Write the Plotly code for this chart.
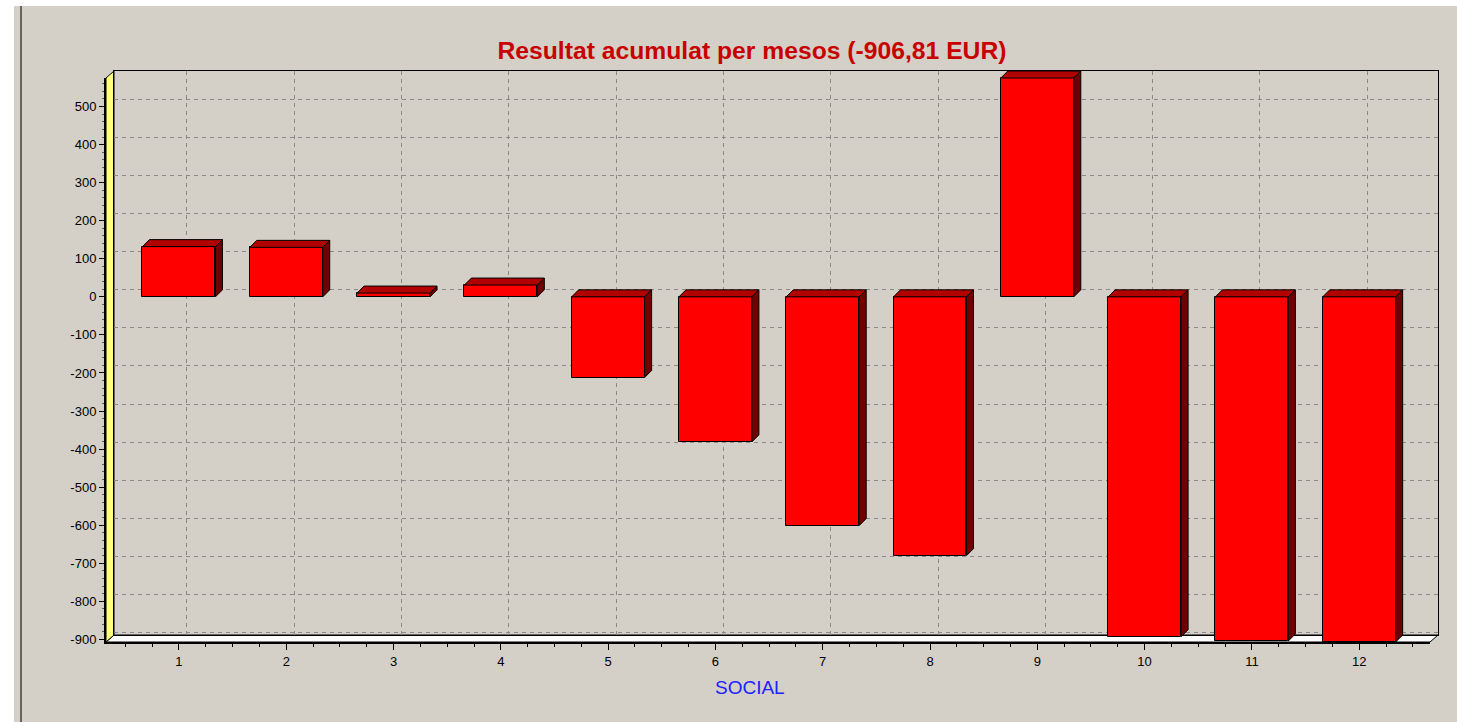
import plotly.graph_objects as go

# ---------------- data ----------------
months = [1, 2, 3, 4, 5, 6, 7, 8, 9, 10, 11, 12]
values = [132, 130, 10, 31, -212, -381, -601, -680, 575, -893, -904, -906.81]
title_text = "Resultat acumulat per mesos (-906,81 EUR)"
x_title = "SOCIAL"
y_ticks = [-900, -800, -700, -600, -500, -400, -300, -200, -100, 0, 100, 200, 300, 400, 500]
y_tick_labels = [str(v) for v in y_ticks]
y_min, y_max = -906.81, 575
x_min, x_max = 0.32, 12.66

# ---------------- geometry (pixels) ----------------
W, H = 1457, 722
FL, FR, FT, FB = 106, 1430, 78, 642      # front plane
DX, DY = 8, 7                            # wall depth
BAR_D = 7                                 # bar depth
BAR_W = 0.68

sx = (FR - FL) / (x_max - x_min)          # px per x unit
sy = (FB - FT) / (y_max - y_min)          # px per y unit


def px(x):
    return x / W


def py(y):
    return 1 - y / H


# overlay axis ranges so that the mapping equals the front plane mapping
x3_range = [x_min - FL / sx, x_min + (W - FL) / sx]
y3_range = [y_min - (H - FB) / sy, y_min + FB / sy]

ddx = BAR_D / sx
ddy = BAR_D / sy

top_x, top_y, side_x, side_y = [], [], [], []
for m, v in zip(months, values):
    xl, xr = m - BAR_W / 2, m + BAR_W / 2
    yt, yb = max(v, 0), min(v, 0)
    top_x += [xl, xr, xr + ddx, xl + ddx, xl, None]
    top_y += [yt, yt, yt + ddy, yt + ddy, yt, None]
    side_x += [xr, xr, xr + ddx, xr + ddx, xr, None]
    side_y += [yb, yt, yt + ddy, yb + ddy, yb, None]

FONT = "Liberation Sans, Arial, sans-serif"
GRID = "#8a8a8a"

fig = go.Figure()

fig.add_trace(go.Scatter(x=[None], y=[None], xaxis="x", yaxis="y",
                         showlegend=False, hoverinfo="skip"))
fig.add_trace(go.Scatter(x=[None], y=[None], xaxis="x2", yaxis="y2",
                         showlegend=False, hoverinfo="skip"))

fig.add_trace(go.Bar(x=months, y=values, width=BAR_W, xaxis="x3", yaxis="y3",
                     marker=dict(color="#FF0000", line=dict(color="#000000", width=1)),
                     showlegend=False))
fig.add_trace(go.Scatter(x=top_x, y=top_y, xaxis="x3", yaxis="y3", mode="lines",
                         fill="toself", fillcolor="#B00000",
                         line=dict(color="#000000", width=1),
                         showlegend=False, hoverinfo="skip"))
fig.add_trace(go.Scatter(x=side_x, y=side_y, xaxis="x3", yaxis="y3", mode="lines",
                         fill="toself", fillcolor="#700000",
                         line=dict(color="#000000", width=1),
                         showlegend=False, hoverinfo="skip"))

shapes = [
    dict(type="rect", xref="paper", yref="paper", x0=0, x1=px(14), y0=0, y1=1,
         fillcolor="#FFFFFF", line=dict(width=0), layer="below"),
    dict(type="rect", xref="paper", yref="paper", x0=0, x1=1, y0=py(6), y1=1,
         fillcolor="#FFFFFF", line=dict(width=0), layer="below"),
    dict(type="line", xref="paper", yref="paper", x0=px(21), x1=px(21), y0=0, y1=py(6),
         line=dict(color="#404040", width=1.5), layer="below"),
    dict(type="path", xref="paper", yref="paper",
         path=f"M {px(FL)},{py(FB)} L {px(FR)},{py(FB)} L {px(FR+DX)},{py(FB-DY)} "
              f"L {px(FL+DX)},{py(FB-DY)} Z",
         fillcolor="#FFFFFF", line=dict(color="#000000", width=1), layer="below"),
    dict(type="path", xref="paper", yref="paper",
         path=f"M {px(FL)},{py(FB)} L {px(FL)},{py(FT)} L {px(FL+DX)},{py(FT-DY)} "
              f"L {px(FL+DX)},{py(FB-DY)} Z",
         fillcolor="#FFFF80", line=dict(color="#000000", width=1), layer="below"),
]

annotations = [
    dict(text=x_title, xref="paper", yref="paper", x=px(750), y=py(687),
         xanchor="center", yanchor="middle", showarrow=False,
         font=dict(family=FONT, size=19, color="#2020FF")),
]

fig.update_layout(
    template="none",
    width=W, height=H, autosize=False,
    margin=dict(l=0, r=0, t=0, b=0, pad=0, autoexpand=False),
    paper_bgcolor="#D4D0C8", plot_bgcolor="rgba(0,0,0,0)",
    font=dict(family=FONT, size=13, color="#000000"),
    title=dict(text=f"<b>{title_text}</b>", x=752 / W, xanchor="center",
               y=py(50), yanchor="middle", automargin=False,
               font=dict(family=FONT, size=24.7, color="#C80000")),
    bargap=0,
    showlegend=False,
    shapes=shapes,
    annotations=annotations,
    xaxis=dict(domain=[px(FL), px(FR)], range=[x_min, x_max], anchor="y",
               automargin=False,
               tickmode="array", tickvals=months, ticktext=[str(m) for m in months],
               ticks="outside", ticklen=6, tickcolor="#000000", tickwidth=1,
               ticklabelstandoff=0,
               minor=dict(dtick=0.25, tick0=0, ticks="outside", ticklen=3,
                          tickcolor="#000000", showgrid=False),
               showline=True, linecolor="#000000", linewidth=2,
               showgrid=False, zeroline=False,
               tickfont=dict(family=FONT, size=13, color="#000000")),
    yaxis=dict(domain=[py(FB), py(FT)], range=[y_min, y_max], anchor="x",
               automargin=False,
               tickmode="array", tickvals=y_ticks, ticktext=y_tick_labels,
               ticks="outside", ticklen=5, tickcolor="#000000", tickwidth=1,
               minor=dict(dtick=20, tick0=0, ticks="outside", ticklen=2,
                          tickcolor="#606060", showgrid=False),
               showline=True, linecolor="#000000", linewidth=2,
               showgrid=False, zeroline=False,
               tickfont=dict(family=FONT, size=13, color="#000000")),
    xaxis2=dict(domain=[px(FL + DX), px(FR + DX)], range=[x_min, x_max], anchor="y2",
                automargin=False,
                tickmode="array", tickvals=months, showticklabels=False, ticks="",
                showgrid=True, gridcolor=GRID, griddash="4px,4px", gridwidth=1,
                showline=True, mirror=True, linecolor="#000000", linewidth=1,
                zeroline=False),
    yaxis2=dict(domain=[py(FB - DY), py(FT - DY)], range=[y_min, y_max], anchor="x2",
                automargin=False,
                tickmode="array", tickvals=y_ticks, showticklabels=False, ticks="",
                showgrid=True, gridcolor=GRID, griddash="4px,4px", gridwidth=1,
                showline=True, mirror=True, linecolor="#000000", linewidth=1,
                zeroline=False),
    xaxis3=dict(domain=[0, 1], range=x3_range, anchor="y3", visible=False,
                automargin=False, fixedrange=True),
    yaxis3=dict(domain=[0, 1], range=y3_range, anchor="x3", visible=False,
                automargin=False, fixedrange=True),
)

fig.write_html("out.html",
               config={"displayModeBar": False},
               post_script="document.documentElement.style.overflow='hidden';"
                           "document.body.style.margin='0';"
                           "document.body.style.overflow='hidden';"
                           "document.body.style.background='#D4D0C8';")
